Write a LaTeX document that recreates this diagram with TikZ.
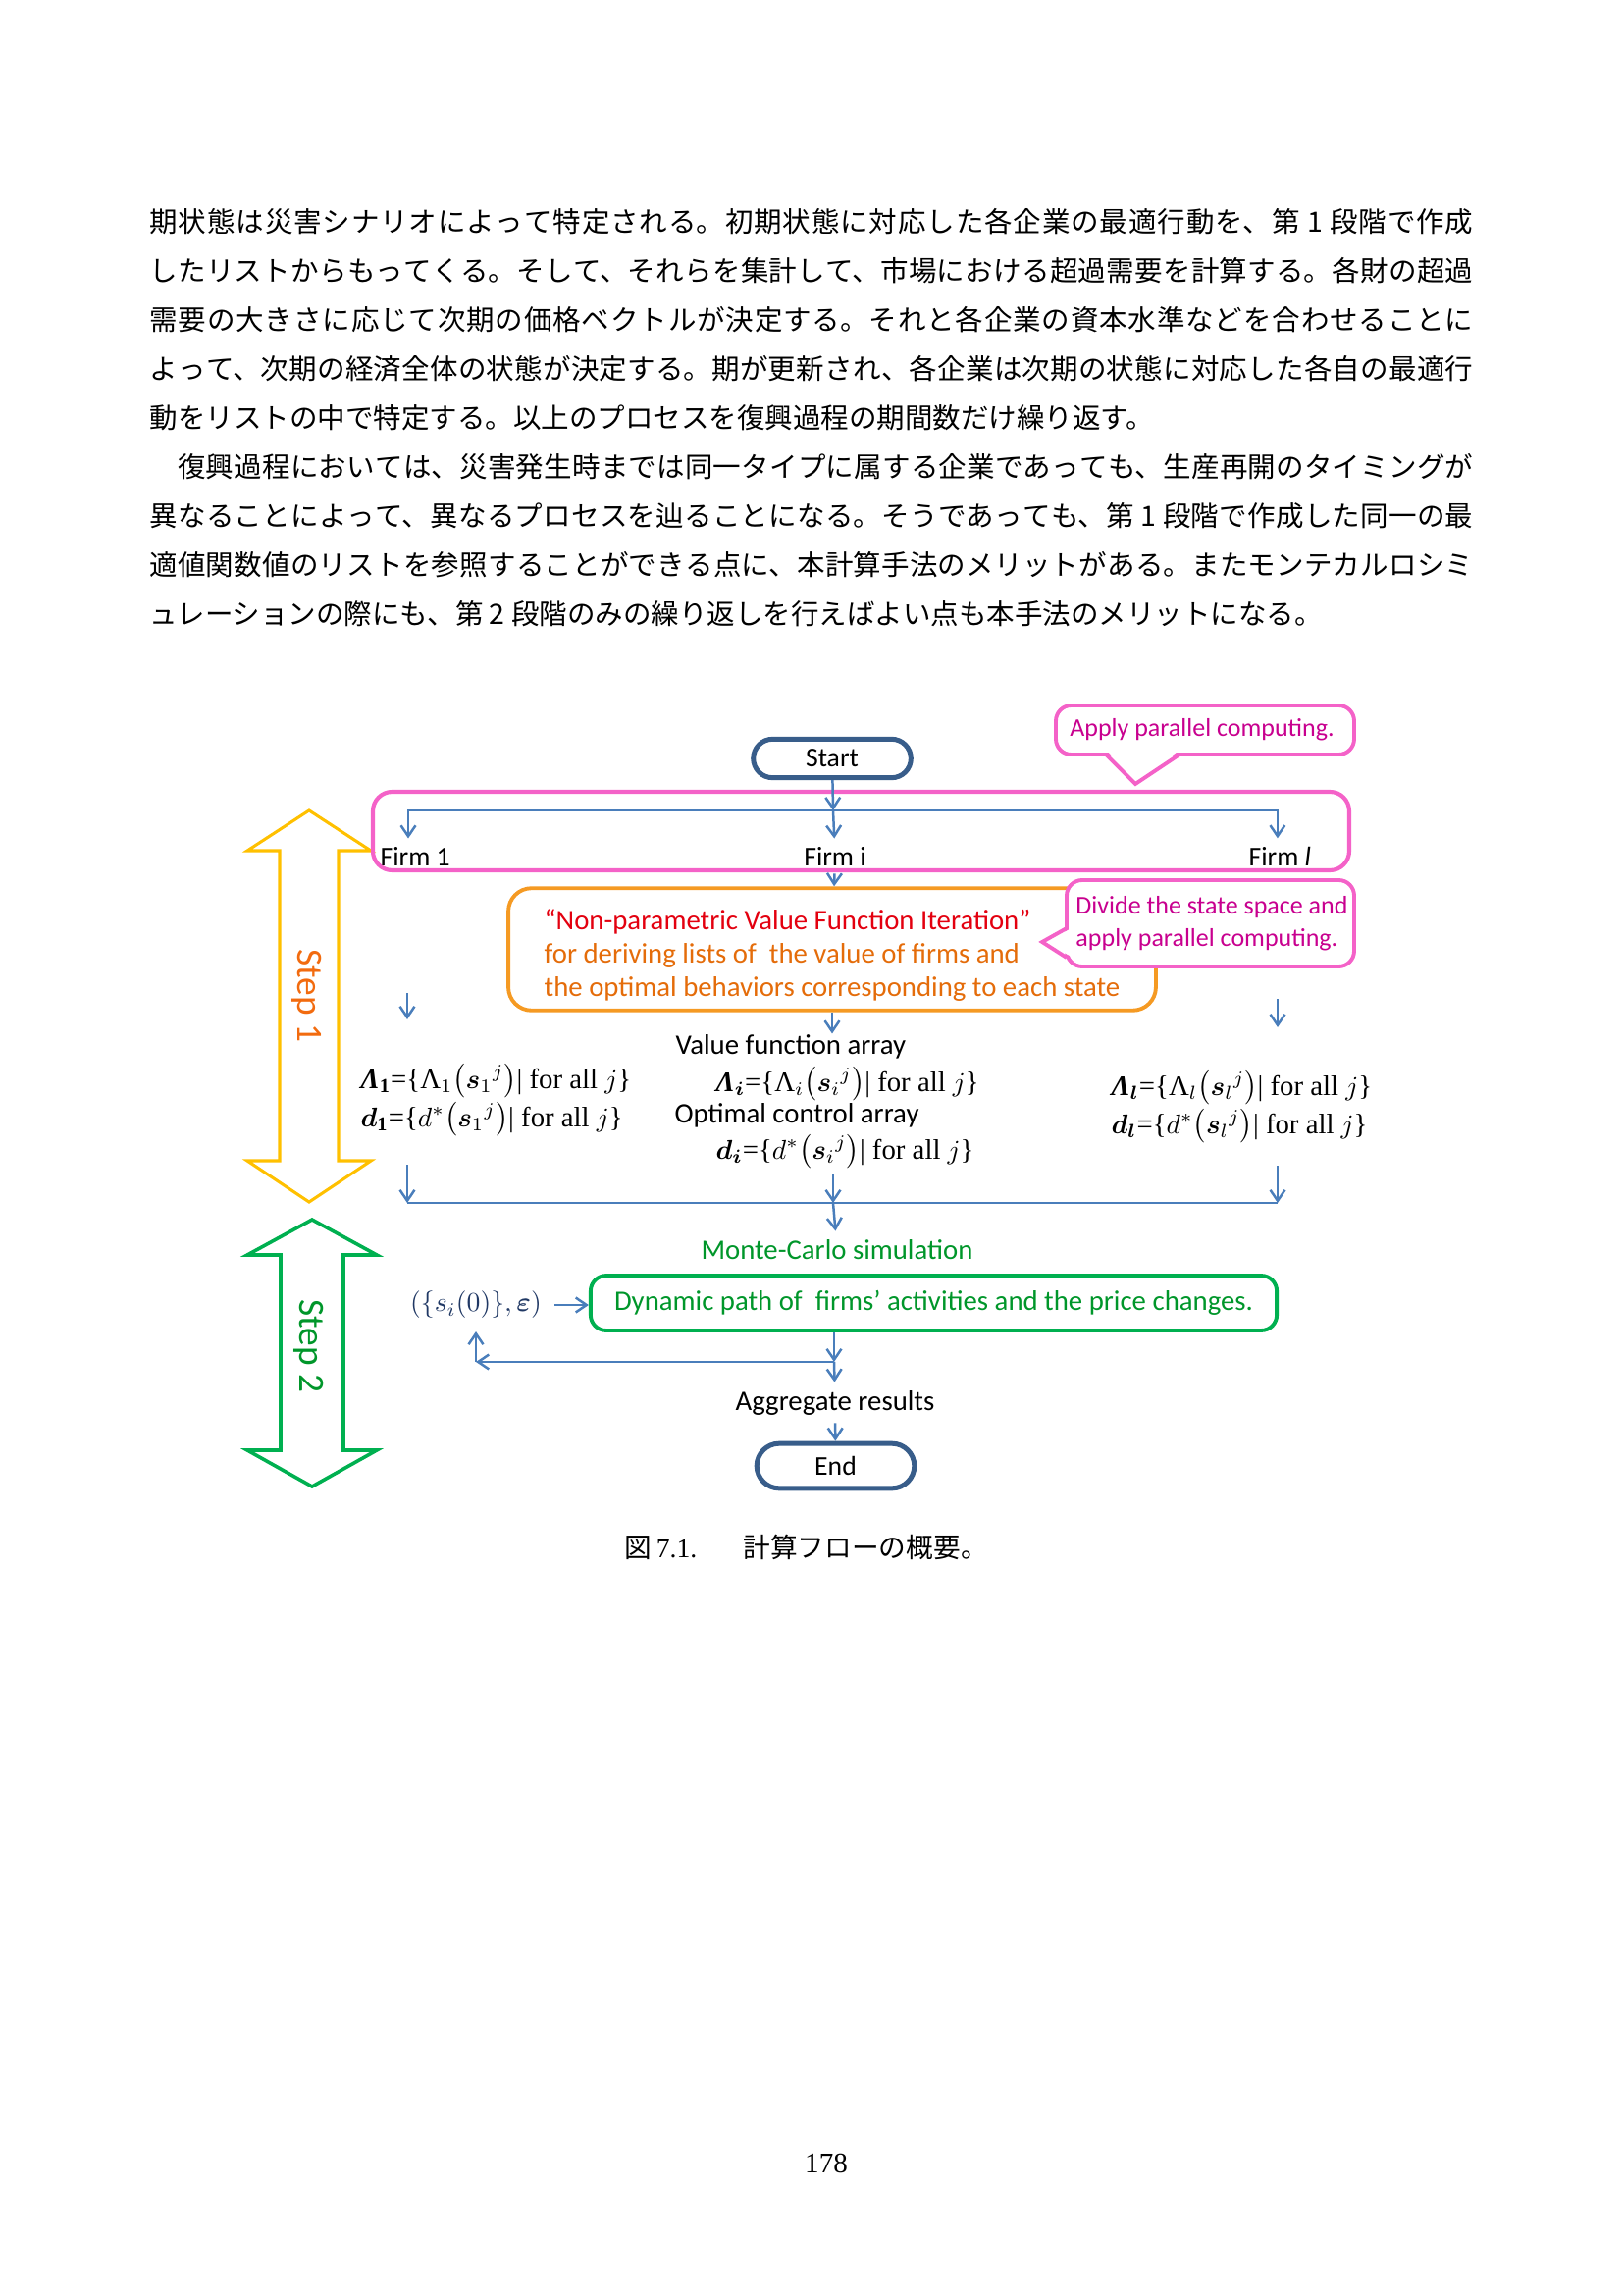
\documentclass[tikz,border=0pt]{standalone}
\usepackage{amsmath,amssymb,bm}
\usepackage{fontspec}
\setmainfont{Liberation Serif}
\newfontfamily\diagfont{Carlito}
\newfontfamily\jpfont{Noto Sans CJK JP}
\usetikzlibrary{arrows.meta,shapes.misc}
\definecolor{FlowBlue}{HTML}{4A7EBB}
\definecolor{TermBlue}{HTML}{385D8A}
\definecolor{CallPink}{HTML}{F462C8}
\definecolor{CallText}{HTML}{C8008F}
\definecolor{IterOrange}{HTML}{F59A23}
\definecolor{IterRed}{HTML}{E3000F}
\definecolor{IterText}{HTML}{E46C0A}
\definecolor{StepYellow}{HTML}{FFC000}
\definecolor{StepOrange}{HTML}{F26B0F}
\definecolor{SimGreen}{HTML}{00B050}
\definecolor{SimText}{HTML}{00962A}
\definecolor{InitNavy}{HTML}{203864}

\newcommand{\jpsetup}{\jpfont\fontsize{10.3}{12}\selectfont
  \XeTeXlinebreaklocale "ja"\XeTeXlinebreakskip=0pt plus 1pt}
\newcommand{\jline}[1]{\parbox[b]{171.3mm}{\parindent=0pt\parfillskip=0pt #1}}
\newcommand{\BLam}{\textbf{\textit{Λ}}}

\begin{document}
\begin{tikzpicture}[x=0.127mm, y=-0.127mm,
  font=\diagfont\fontsize{10.4}{12.4}\selectfont,
  >={Straight Barb[length=1.4mm,width=1.9mm]},
  body/.style={anchor=base west, inner sep=0pt, font=\jpsetup},
  terminal/.style={rounded rectangle, draw=TermBlue, line width=1.8pt,
    minimum width=20.4mm, inner sep=0pt, font=\diagfont\fontsize{10}{12}\selectfont},
  flow/.style={->, draw=FlowBlue, line width=0.9pt},
  lbl/.style={inner xsep=0pt, inner ysep=1mm},
  firm/.style={lbl, font=\diagfont\fontsize{10}{12}\selectfont},
  arr/.style={anchor=base west, inner sep=0pt},
  eqn/.style={anchor=base west, inner sep=0pt, font=\rmfamily\fontsize{10.4}{12}\selectfont},
  grouppink/.style={draw=CallPink, line width=1.5pt},
  callpink/.style={draw=CallPink, line width=1.4pt},
  calltext/.style={text=CallText, font=\diagfont\fontsize{9.4}{11.8}\selectfont,
    align=left, inner sep=0pt},
  stepone/.style={draw=StepYellow, line width=1.1pt, line join=miter},
  steptwo/.style={draw=SimGreen, line width=1.3pt, line join=miter},
  steplabel/.style={rotate=-90, inner sep=0pt, font=\diagfont\fontsize{13.5}{16}\selectfont}]

\useasboundingbox (0,0) rectangle (1654,2339);

% body text
\node[body] (pa) at (152,237) {\jline{期状態は災害シナリオによって特定される。初期状態に対応した各企業の最適行動を、第 1 段階で作成}};
\node[body] (pb) at (152,287) {\jline{したリストからもってくる。そして、それらを集計して、市場における超過需要を計算する。各財の超過}};
\node[body] (pc) at (152,337) {\jline{需要の大きさに応じて次期の価格ベクトルが決定する。それと各企業の資本水準などを合わせることに}};
\node[body] (pd) at (152,387) {\jline{よって、次期の経済全体の状態が決定する。期が更新され、各企業は次期の状態に対応した各自の最適行}};
\node[body] (pe) at (152,437) {動をリストの中で特定する。以上のプロセスを復興過程の期間数だけ繰り返す。};
\node[body] (pf) at (152,487) {\jline{　復興過程においては、災害発生時までは同一タイプに属する企業であっても、生産再開のタイミングが}};
\node[body] (pg) at (152,537) {\jline{異なることによって、異なるプロセスを辿ることになる。そうであっても、第 1 段階で作成した同一の最}};
\node[body] (ph) at (152,587) {\jline{適値関数値のリストを参照することができる点に、本計算手法のメリットがある。またモンテカルロシミ}};
\node[body] (pi) at (152,637) {ュレーションの際にも、第 2 段階のみの繰り返しを行えばよい点も本手法のメリットになる。};

% step arrows
\draw[stepone] (315,826) -- (378,867) -- (345,867) -- (345,1183) -- (378,1183) -- (315,1225)
  -- (252,1183) -- (285,1183) -- (285,867) -- (252,867) -- cycle;
\node[steplabel, text=StepOrange] (stepa) at (313,1015) {Step 1};
\draw[steptwo] (318,1243) -- (384,1279) -- (350,1279) -- (350,1478) -- (384,1478) -- (318,1515)
  -- (252,1478) -- (286,1478) -- (286,1279) -- (252,1279) -- cycle;
\node[steplabel, text=SimText] (stepb) at (315,1372) {Step 2};

% step 1: firms
\node[terminal, minimum height=5mm] (start) at (848,773) {Start};
\draw[grouppink, rounded corners=2.5mm] (380,807) rectangle (1375,887);
\draw[callpink, fill=white, rounded corners=2mm] (1076,719) rectangle (1380,769);
\fill[white] (1129,766) -- (1157,797) -- (1200,766) -- cycle;
\draw[callpink] (1127,769) -- (1157,799) -- (1202,769);
\node[calltext] (applypc) at (1225,744) {Apply parallel computing.};

\coordinate (split) at (849,826);
\node[firm, anchor=base west] (firmone) at (387,882) {Firm 1};
\node[firm, anchor=base] (firmi) at (851,882) {Firm i};
\node[firm, anchor=base west] (firml) at (1272,882) {Firm \textit{l}};
\draw[flow] (start) -- (split);
\draw[flow] (split) -- (firmi);
\draw[flow] (split) -| ([xshift=-0.9mm]firmone.north);
\draw[flow] (split) -| ([xshift=-0.3mm]firml.north);

\node[draw=IterOrange, line width=1.4pt, rounded corners=3mm, minimum width=83.8mm,
  minimum height=14.1mm, align=left, text=IterText,
  font=\diagfont\fontsize{10.4}{12.3}\selectfont] (nvfi) at (848,967.5)
  {\rule{0pt}{4.2mm}\textcolor{IterRed}{“Non-parametric Value Function Iteration”}\\
   for deriving lists of\ \ the value of firms and\\
   the optimal behaviors corresponding to each state};
\draw[flow] (firmi) -- (nvfi);

\draw[callpink, fill=white, rounded corners=2mm] (1087,897) rectangle (1380,985);
\fill[white] (1090,947) -- (1064,960) -- (1090,974) -- cycle;
\draw[callpink] (1087,946) -- (1062,960) -- (1087,976);
\node[calltext] (dividepc) at (1235,941) {Divide the state space and\\apply parallel computing.};

% value function and control arrays
\coordinate (oneup) at (415,1012);
\coordinate (onedown) at (415,1039);
\coordinate (lup) at (1302,1018);
\coordinate (ldown) at (1302,1047);
\draw[flow] (oneup) -- (onedown);
\draw[flow] (lup) -- (ldown);

\node[arr] (vfa) at (688,1074) {Value function array};
\node[arr] (oca) at (687,1144) {Optimal control array};
\draw[flow] (nvfi) -- (nvfi.south |- vfa.north);

\node[eqn] (lamone) at (367,1109) {\BLam$_{\mathbf{1}}$=\{Λ$_1\bigl(\bm{s}_1{}^{j}\bigr)$| for all $j$\}};
\node[eqn] (done) at (367,1148) {$\bm{d}_{\mathbf{1}}$=\{$d^{*}\bigl(\bm{s}_1{}^{j}\bigr)$| for all $j$\}};
\node[eqn] (lami) at (729,1112) {\BLam$_{\bm{i}}$=\{Λ$_i\bigl(\bm{s}_i{}^{j}\bigr)$| for all $j$\}};
\node[eqn] (di) at (729,1181) {$\bm{d}_{\bm{i}}$=\{$d^{*}\bigl(\bm{s}_i{}^{j}\bigr)$| for all $j$\}};
\node[eqn] (laml) at (1132,1116) {\BLam$_{\bm{l}}$=\{Λ$_l\bigl(\bm{s}_l{}^{j}\bigr)$| for all $j$\}};
\node[eqn] (dl) at (1132,1155) {$\bm{d}_{\bm{l}}$=\{$d^{*}\bigl(\bm{s}_l{}^{j}\bigr)$| for all $j$\}};

\coordinate (onelow) at (415,1187);
\coordinate (onemerge) at (415,1226);
\coordinate (llow) at (1302,1188);
\coordinate (lmerge) at (1302,1226);
\coordinate (merge) at (849,1226);
\draw[flow] (onelow) -- (onemerge);
\draw[flow] (llow) -- (lmerge);
\draw[FlowBlue, line width=0.9pt] (onemerge) -- (lmerge);
\draw[flow] ([yshift=-0.6mm]di.south -| merge) -- (merge);

% step 2: simulation
\node[lbl, anchor=base, text=SimText] (mcs) at (853,1283) {Monte-Carlo simulation};
\draw[flow] (merge) -- (mcs);
\node[draw=SimGreen, line width=1.4pt, rounded corners=2mm, minimum width=88.8mm,
  minimum height=7.1mm, text=SimText] (dyn) at (951.5,1328)
  {Dynamic path of\ \ firms’ activities and the price changes.};
\node[inner sep=1.6mm, text=InitNavy] (init) at (485,1330) {$(\{s_i(0)\},\bm{\varepsilon})$};
\draw[flow] (init.east) -- (init.east -| dyn.west);

\coordinate (loop) at (850,1388);
\coordinate (corner) at (loop -| init);
\draw[flow] (dyn.south -| loop) -- (loop);
\draw[flow] (loop) -- (corner);
\draw[flow] (corner) -- (init.south);

\node[lbl, anchor=base] (aggr) at (851,1437) {Aggregate results};
\draw[flow] (loop) -- (aggr);
\node[terminal, minimum height=5.8mm] (end) at (851.5,1494) {End};
\draw[flow] (aggr) -- (end);

% caption and page number
\node[anchor=base west, inner sep=0pt, font=\fontsize{10}{12}\selectfont] (caption) at (636,1587)
  {{\jpfont 図}\,7.1.\hspace{6mm}{\jpfont 計算フローの概要。}};
\node[inner sep=0pt, font=\fontsize{10.5}{12}\selectfont] (pageno) at (842,2205) {178};
\end{tikzpicture}
\end{document}
